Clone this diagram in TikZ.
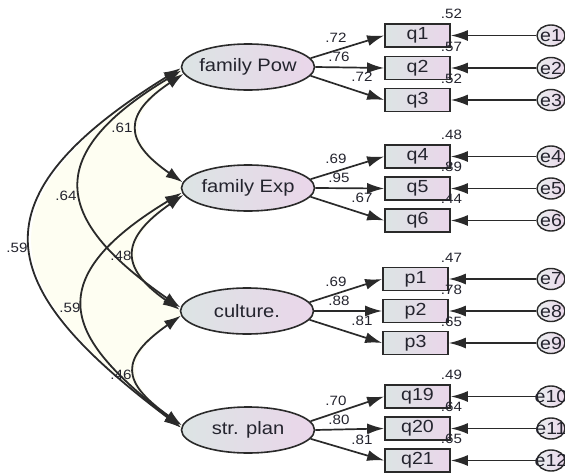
\documentclass[tikz,border=0pt]{standalone}
\usepackage{fontspec}
\setmainfont{Liberation Sans}[FakeStretch=1.12]
\usetikzlibrary{shapes.geometric,arrows.meta}
\definecolor{ivory}{HTML}{FEFEF2}
\definecolor{lgray}{HTML}{DCE4E4}
\definecolor{lpink}{HTML}{EAD6EA}
\definecolor{edge}{HTML}{2A2A2A}
\definecolor{txt}{HTML}{24242E}
\pgfdeclarelayer{bg}
\pgfsetlayers{bg,main}
\begin{document}
\begin{tikzpicture}[x=1pt,y=-1pt,
  >={Latex[length=17pt,width=11pt]},
  latent/.style={ellipse, draw=edge, line width=1.6pt, left color=lgray, right color=lpink,
    minimum width=133pt, minimum height=46pt, inner sep=0pt},
  lattext/.style={font=\fontsize{18}{18}\selectfont, text=txt, inner sep=0pt},
  obsbox/.style={rectangle, draw=edge, line width=1.7pt, left color=lgray, right color=lpink,
    minimum width=65pt, minimum height=23pt, inner sep=0pt, font=\fontsize{17.5}{17.5}\selectfont, text=txt},
  errc/.style={ellipse, draw=edge, line width=1.4pt, left color=lgray!60!white, right color=lpink,
    minimum width=28pt, minimum height=21pt, inner sep=0pt},
  errtext/.style={font=\fontsize{17.5}{17.5}\selectfont, text=txt, inner sep=0pt},
  cov/.style={line width=1.8pt, draw=edge, <->},
  load/.style={line width=1.7pt, draw=edge, ->},
  coef/.style={font=\fontsize{13.5}{13.5}\selectfont, text=txt, inner sep=0pt}]
\useasboundingbox (0,0) rectangle (565,474);
\clip (0,0) rectangle (565,474);

% latent variables
\node[latent, label={[lattext]center:family Pow}] (pow) at (248,67) {};
\node[latent, label={[lattext]center:family Exp}] (exp) at (248,188) {};
\node[latent, label={[lattext]center:culture.}] (cul) at (247,311) {};
\node[latent, label={[lattext]center:str. plan}] (str) at (248,430) {};

% observed boxes
\node[obsbox] (q1) at (417.5,35.5) {q1};
\node[obsbox] (q2) at (417.5,68) {q2};
\node[obsbox] (q3) at (417.5,100) {q3};
\node[obsbox] (q4) at (417.5,156.5) {q4};
\node[obsbox] (q5) at (417.5,188.5) {q5};
\node[obsbox] (q6) at (417.5,220.5) {q6};
\node[obsbox] (p1) at (415.5,279) {p1};
\node[obsbox] (p2) at (415.5,311) {p2};
\node[obsbox] (p3) at (415.5,343) {p3};
\node[obsbox] (q19) at (417.5,396.5) {q19};
\node[obsbox] (q20) at (417.5,428.5) {q20};
\node[obsbox] (q21) at (417.5,460.5) {q21};

% error terms
\foreach \n/\b/\yy in {1/q1/35.5,2/q2/68,3/q3/100,4/q4/156.5,5/q5/188.5,6/q6/220.5,
                       7/p1/279,8/p2/311,9/p3/343,10/q19/396.5,11/q20/428.5,12/q21/460.5}{
  \node[errc, label={[errtext]center:e\n}] (e\n) at (551,\yy) {};
  \draw[load] (e\n) -- (\b);
}

% loadings
\foreach \l/\a/\b/\c in {pow/q1/q2/q3, exp/q4/q5/q6, cul/p1/p2/p3, str/q19/q20/q21}{
  \draw[load] (\l.8) -- (\a.west);
  \draw[load] (\l.east) -- (\b.west);
  \draw[load] (\l.-8) -- (\c.west);
}

% background fills
\begin{pgfonlayer}{bg}
  \fill[ivory] (pow.181) .. controls (-40,204) and (3.6,294) .. (str.178) -- cycle;
  \fill[white] (pow.186) .. controls (123,114) and (123,141) .. (exp.175) -- (250,183) -- (250,72) -- cycle;
  \fill[white] (exp.186) .. controls (121,238) and (118,267) .. (cul.179) -- (250,310) -- (250,195) -- cycle;
  \fill[white] (cul.184) .. controls (119,359) and (121,382) .. (str.176) -- (250,425) -- (250,316) -- cycle;
\end{pgfonlayer}

% covariances
\draw[cov] (pow.181) .. controls (-40,204) and (3.6,294) .. (str.178);
\draw[cov] (pow.183) .. controls (36.6,157.8) and (58.4,222.9) .. (cul.177);
\draw[cov] (pow.186) .. controls (123,114) and (123,141) .. (exp.175);
\draw[cov] (exp.184) .. controls (26,287) and (79,346) .. (str.178.5);
\draw[cov] (exp.186) .. controls (121,238) and (118,267) .. (cul.179);
\draw[cov] (cul.184) .. controls (119,359) and (121,382) .. (str.176);

% covariance labels
\node[coef] (c1) at (122,128) {.61};
\node[coef] (c2) at (66,196) {.64};
\node[coef] (c3) at (17,248) {.59};
\node[coef] (c4) at (121,256) {.48};
\node[coef] (c5) at (70,308) {.59};
\node[coef] (c6) at (121,375) {.46};

% loading labels
\foreach \yc/\la/\lb/\lc in {67/.72/.76/.72, 188/.69/.95/.67, 311/.69/.88/.81, 430/.70/.80/.81}{
  \node[coef] at (336,\yc-29.5) {\la};
  \node[coef] at (339,\yc-10.5) {\lb};
  \node[coef] at (362,\yc+9.5) {\lc};
}

% R-square labels
\foreach \yy/\r in {35.5/.52,68/.57,100/.52,156.5/.48,188.5/.89,220.5/.44,
                    279/.47,311/.78,343/.65,396.5/.49,428.5/.64,460.5/.65}{
  \node[coef] at (451.5,\yy-21.5) {\r};
}
\end{tikzpicture}
\end{document}
